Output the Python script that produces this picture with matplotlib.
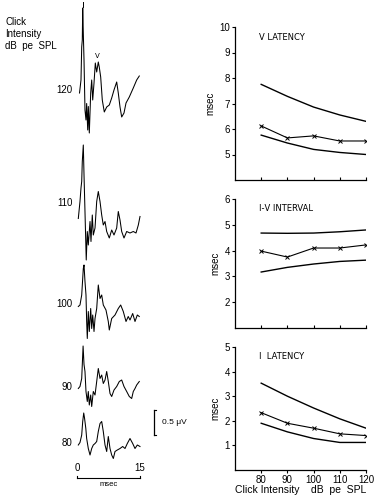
import matplotlib
matplotlib.use("Agg")
import matplotlib.pyplot as plt
import numpy as np

plt.rcParams['font.family'] = ['Liberation Sans', 'DejaVu Sans']

W, H = 379, 500

# ---------------- data ----------------
intensity = [80, 90, 100, 110, 120]

v_lat_upper = [7.75, 7.28, 6.86, 6.55, 6.30]
v_lat_data = [6.12, 5.65, 5.73, 5.53, 5.53]
v_lat_lower = [5.76, 5.45, 5.20, 5.08, 5.00]

iv_upper = [4.68, 4.67, 4.68, 4.73, 4.80]
iv_data = [3.98, 3.75, 4.10, 4.10, 4.22]
iv_lower = [3.17, 3.35, 3.48, 3.58, 3.63]

i_lat_upper = [3.53, 3.00, 2.52, 2.08, 1.70]
i_lat_data = [2.33, 1.90, 1.70, 1.47, 1.40]
i_lat_lower = [1.90, 1.55, 1.28, 1.12, 1.12]

trace_labels = ["120", "110", "100", "90", "80"]

t120 = [0.6, 0.95, 1.12, 1.26, 1.36, 1.5, 1.67, 1.9, 2.14, 2.3, 2.55, 2.7, 2.93, 3.26, 3.5, 3.74,
        4.05, 4.36, 4.69, 5.07, 5.3, 5.64, 6.02, 6.5, 7.07, 7.69, 8.26, 8.81, 9.45, 9.83, 10.24,
        10.64, 11.19, 11.67, 12.45, 13.4, 14.21, 14.83]
a120 = [-0.06, 0.2, 0.86, 1.0, 1.64, 1.14, 0.6, -0.4, -0.6, -0.27, -0.8, -0.33, -0.86, -0.06, 0.2,
        -0.2, 0.14, 0.54, 0.36, 0.56, 0.46, 0.26, -0.2, -0.44, -0.34, -0.3, -0.16, 0.0, 0.16, -0.06,
        -0.34, -0.54, -0.46, -0.26, -0.14, 0.04, 0.2, 0.28]

t110 = [0.31, 0.71, 0.95, 1.12, 1.26, 1.5, 1.67, 1.9, 2.2, 2.45, 2.69, 3.1, 3.33, 3.64, 3.88, 4.29,
        4.69, 5.07, 5.48, 5.88, 6.26, 6.67, 7.07, 7.69, 8.26, 8.81, 9.45, 9.83, 10.24, 10.64, 11.19,
        11.83, 12.62, 13.4, 14.05, 14.6, 15.0]
a110 = [-0.31, 0.03, 0.3, 0.43, 0.83, 1.16, 0.56, -0.17, -1.14, -0.57, -0.84, -0.37, -0.77, -0.24,
        -0.64, -0.5, 0.03, 0.23, 0.03, -0.24, -0.44, -0.37, -0.57, -0.7, -0.54, -0.64, -0.5, -0.17,
        -0.34, -0.57, -0.7, -0.57, -0.6, -0.57, -0.6, -0.44, -0.27]

t100 = [0.31, 0.71, 1.12, 1.36, 1.5, 1.67, 1.9, 2.14, 2.3, 2.45, 2.69, 2.93, 3.26, 3.5, 3.74, 4.05,
        4.29, 4.69, 5.07, 5.48, 5.88, 6.26, 6.9, 7.45, 7.69, 8.26, 9.05, 9.83, 10.4, 11.02, 11.67,
        12.2, 12.62, 13.26, 13.81, 14.36, 14.83]
a100 = [-0.05, -0.02, 0.18, 0.51, 0.71, 0.78, 0.45, 0.18, -0.35, -0.69, -0.15, -0.55, -0.09, -0.49,
        -0.22, -0.55, -0.29, -0.09, 0.38, 0.11, 0.18, -0.02, -0.12, -0.35, -0.52, -0.29, -0.22,
        -0.09, -0.02, -0.15, -0.35, -0.25, -0.32, -0.19, -0.35, -0.22, -0.25]

t90 = [0.31, 0.71, 1.12, 1.45, 1.67, 1.9, 2.14, 2.45, 2.69, 2.93, 3.26, 3.5, 3.88, 4.29, 4.69, 5.07,
       5.48, 5.88, 6.26, 6.67, 7.07, 7.45, 7.86, 8.26, 8.81, 9.45, 10.07, 10.64, 11.19, 11.83, 12.45,
       13.02, 13.4, 13.81, 14.21, 14.83]
a90 = [-0.03, 0.01, 0.17, 0.82, 0.45, 0.31, -0.09, -0.29, -0.09, -0.36, -0.16, -0.39, -0.09, -0.16,
       0.11, 0.37, 0.17, 0.24, 0.07, 0.14, 0.31, 0.11, -0.13, -0.19, -0.06, 0.01, 0.11, 0.14, 0.01,
       -0.09, -0.19, -0.23, -0.09, -0.03, 0.04, 0.11]

t80 = [0.31, 0.71, 1.12, 1.36, 1.6, 1.79, 2.1, 2.3, 2.69, 3.1, 3.5, 3.88, 4.29, 4.69, 5.07, 5.48,
       5.88, 6.26, 6.67, 7.07, 7.45, 7.86, 8.26, 8.65, 9.05, 9.6, 10.24, 10.88, 11.43, 11.98, 12.62,
       13.26, 13.81, 14.36, 15.0]
a80 = [-0.04, 0.01, 0.16, 0.43, 0.6, 0.5, 0.29, 0.09, -0.11, -0.24, -0.11, -0.04, -0.01, 0.03, 0.23,
       0.39, 0.43, 0.23, -0.04, -0.17, 0.13, -0.11, -0.24, -0.31, -0.17, -0.14, -0.11, -0.07, -0.11,
       -0.01, 0.09, -0.01, -0.11, -0.04, -0.07]

traces_t = [t120, t110, t100, t90, t80]
traces_a = [a120, a110, a100, a90, a80]

# ---------------- figure ----------------
fig = plt.figure(figsize=(W / 100, H / 100), dpi=100)

def fx(px):
    return px / W

def fy(py):
    return 1 - py / H

# ---- left: waveforms; axes covering whole figure, x in ms, y in microvolts ----
px_per_ms = 4.2
px_per_uv = 50.0
t0_px = 77
axw = fig.add_axes([0, 0, 1, 1])
axw.set_xlim(-t0_px / px_per_ms, (W - t0_px) / px_per_ms)
axw.set_ylim(0, H / px_per_uv)
axw.axis('off')

baselines_px = [90, 203, 304, 387, 443]
for lab, tt, aa, bpx in zip(trace_labels, traces_t, traces_a, baselines_px):
    base = (H - bpx) / px_per_uv
    axw.plot(tt, np.array(aa) + base, color='black', lw=0.75)
    axw.text(-1.0, base, lab, ha='right', va='center', fontsize=7)

# peak markers on the 120 trace
base120 = (H - baselines_px[0]) / px_per_uv
axw.plot([1.36, 1.36], [base120 + 1.67, base120 + 1.76], color='black', lw=0.7)
axw.text(4.8, base120 + 0.62, "Ⅴ", ha='center', va='bottom', fontsize=5,
         family=['DejaVu Sans'])

# time scale bar
ybar = (H - 478) / px_per_uv
axw.plot([0, 15], [ybar, ybar], color='black', lw=0.8)
axw.plot([0, 0], [ybar, ybar + 0.05], color='black', lw=0.8)
axw.plot([15, 15], [ybar, ybar + 0.05], color='black', lw=0.8)
axw.text(0, ybar + 0.1, "0", ha='center', va='bottom', fontsize=7)
axw.text(15, ybar + 0.1, "15", ha='center', va='bottom', fontsize=7)
axw.text(7.5, ybar - 0.05, "msec", ha='center', va='top', fontsize=5.5)

# amplitude scale bar (0.5 uV)
tb = (154 - t0_px) / px_per_ms
yb0 = (H - 435) / px_per_uv
axw.plot([tb, tb], [yb0, yb0 + 0.5], color='black', lw=0.9)
axw.plot([tb, tb + 0.5], [yb0, yb0], color='black', lw=0.8)
axw.plot([tb, tb + 0.5], [yb0 + 0.5, yb0 + 0.5], color='black', lw=0.8)
axw.text(tb + 1.8, yb0 + 0.25, "0.5 μV", ha='left', va='center', fontsize=6)

# header
fig.text(fx(5), fy(17), "Click\nIntensity\ndB  pe  SPL", ha='left', va='top', fontsize=7,
         linespacing=1.25)

# ---- right panels ----
left = 235
right = 366

def add_panel(top_px, bot_px, ylo, yhi, yticks):
    ax = fig.add_axes([fx(left), fy(bot_px), (right - left) / W, (bot_px - top_px) / H])
    ax.set_xlim(70, 120)
    ax.set_ylim(ylo, yhi)
    ax.set_yticks(yticks)
    ax.set_xticks(intensity)
    for s in ['top', 'right']:
        ax.spines[s].set_visible(False)
    for s in ['left', 'bottom']:
        ax.spines[s].set_linewidth(0.9)
    ax.tick_params(axis='y', direction='out', length=2.5, width=0.8, labelsize=7, pad=1)
    ax.tick_params(axis='x', direction='in', length=2.5, width=0.8, labelsize=7, pad=2)
    ax.set_ylabel("msec", fontsize=7, labelpad=3)
    return ax

ax1 = add_panel(27, 180, 4, 10, [5, 6, 7, 8, 9, 10])
ax2 = add_panel(199, 328, 1, 6, [2, 3, 4, 5, 6])
ax3 = add_panel(347, 470, 0, 5, [1, 2, 3, 4, 5])

for ax, up, dat, lo, title in [
    (ax1, v_lat_upper, v_lat_data, v_lat_lower, "Ⅴ LATENCY"),
    (ax2, iv_upper, iv_data, iv_lower, "I-Ⅴ INTERVAL"),
    (ax3, i_lat_upper, i_lat_data, i_lat_lower, "I  LATENCY"),
]:
    ax.plot(intensity, up, color='black', lw=1.0)
    ax.plot(intensity, lo, color='black', lw=1.0)
    ax.plot(intensity, dat, color='black', lw=0.8, marker='x', ms=3, mew=0.7)
    ax.text(0.18, 0.96, title, transform=ax.transAxes, ha='left', va='top', fontsize=6,
            family=['DejaVu Sans'])

ax1.tick_params(axis='x', labelbottom=False)
ax2.tick_params(axis='x', labelbottom=False)
ax3.tick_params(axis='x', direction='out', pad=1)
ax3.set_xlabel("Click Intensity    dB  pe  SPL", fontsize=7.5, labelpad=0)

fig.savefig("out.png", dpi=100)
